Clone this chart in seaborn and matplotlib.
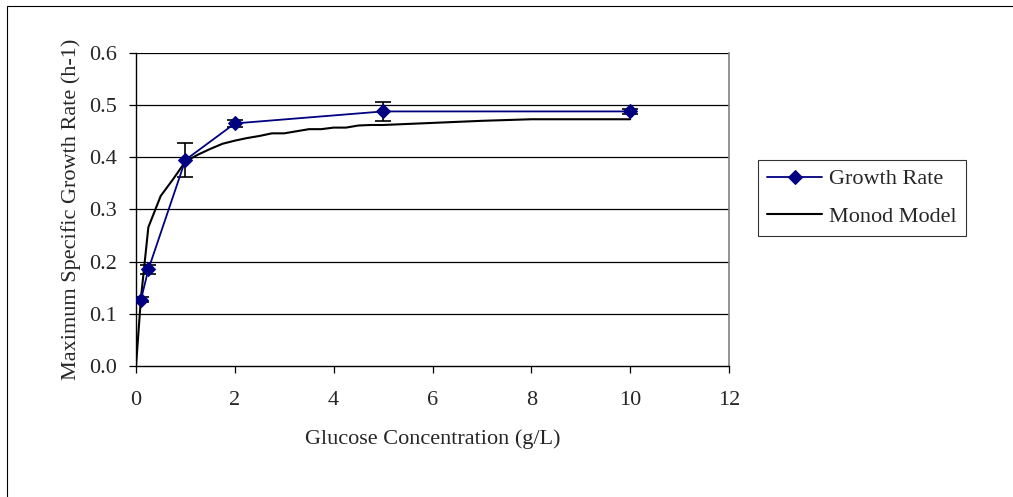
import matplotlib
matplotlib.use("Agg")
import matplotlib.pyplot as plt
from matplotlib.patches import Rectangle
import numpy as np
import pandas as pd
import seaborn as sns

# Measured maximum specific growth rates
glucose = [0.1, 0.25, 1.0, 2.0, 5.0, 10.0]
growth_rate = [0.127, 0.185, 0.395, 0.465, 0.488, 0.488]
growth_err = [0.005, 0.008, 0.032, 0.007, 0.018, 0.005]

# Monod model curve
monod_s = [0, 0.1, 0.25, 0.5, 0.75, 1.0, 1.25, 1.5, 1.75, 2.0, 2.25, 2.5, 2.75,
           3.0, 3.25, 3.5, 3.75, 4.0, 4.25, 4.5, 4.75, 5.0, 6.0, 7.0, 8.0, 9.0, 10.0]
monod_mu = [0.0, 0.13, 0.266, 0.326, 0.358, 0.392, 0.405, 0.416, 0.426, 0.432, 0.437,
            0.441, 0.446, 0.446, 0.450, 0.454, 0.454, 0.457, 0.457, 0.461, 0.462,
            0.462, 0.466, 0.470, 0.473, 0.473, 0.473]

x_ticks = [0, 2, 4, 6, 8, 10, 12]
y_ticks = [0.0, 0.1, 0.2, 0.3, 0.4, 0.5, 0.6]

sns.set_style("white")
plt.rcParams["font.family"] = ["Liberation Serif", "DejaVu Serif"]
FS = 16

W, H = 1013, 497
fig = plt.figure(figsize=(W / 100, H / 100), dpi=100)
fig.patch.set_facecolor("white")

# Chart-area frame
fig.patches.append(Rectangle((7 / W, -0.2), 1.2, 1.2 - 6 / H, transform=fig.transFigure,
                             fill=False, edgecolor="black", linewidth=0.8))

left, right, top, bottom = 136, 729, 53, 366
ax = fig.add_axes([left / W, 1 - bottom / H, (right - left) / W, (bottom - top) / H])

data = pd.DataFrame({"s": glucose, "mu": growth_rate})
model = pd.DataFrame({"s": monod_s, "mu": monod_mu})

for y in y_ticks[1:]:
    ax.axhline(y, color="#000000", linewidth=0.9, zorder=0)

sns.lineplot(data=model, x="s", y="mu", ax=ax, color="black", linewidth=1.5,
             label="Monod Model", zorder=3, sort=False)
ax.errorbar(glucose, growth_rate, yerr=growth_err, fmt="none", ecolor="black",
            elinewidth=1.2, capsize=5.5, capthick=1.2, zorder=4)
sns.lineplot(data=data, x="s", y="mu", ax=ax, color="#000080", linewidth=1.3,
             marker="D", markersize=7, markeredgecolor="#000080",
             label="Growth Rate", zorder=5, sort=False)

ax.set_xlim(0, 12)
ax.set_ylim(0, 0.6)
ax.set_xticks(x_ticks)
ax.set_yticks(y_ticks)
ax.set_xticklabels([str(v) for v in x_ticks])
ax.set_yticklabels([f"{v:.1f}" for v in y_ticks])
ax.tick_params(axis="both", which="both", direction="out", length=5, width=0.9,
               color="black", labelsize=FS, left=True, bottom=True)
ax.tick_params(axis="x", pad=13)
ax.tick_params(axis="y", pad=9)

for side in ["left", "bottom"]:
    ax.spines[side].set_color("black")
    ax.spines[side].set_linewidth(1.0)
ax.spines["right"].set_color("#808080")
ax.spines["right"].set_linewidth(1.2)
ax.spines["top"].set_visible(False)

ax.set_xlabel("Glucose Concentration (g/L)", fontsize=FS)
ax.xaxis.set_label_coords(0.5, (366 - 429) / 313)
ax.set_ylabel("Maximum Specific Growth Rate (h-1)", fontsize=FS)
ax.yaxis.set_label_coords((81 - 136) / 593, 0.5)

handles, labels = ax.get_legend_handles_labels()
order = [labels.index("Growth Rate"), labels.index("Monod Model")]
leg = ax.legend([handles[i] for i in order], [labels[i] for i in order],
                loc="upper left", bbox_to_anchor=(758 / W, 1 - 160 / H),
                bbox_transform=fig.transFigure, frameon=True, fancybox=False,
                edgecolor="black", fontsize=FS, handlelength=2.5,
                borderpad=0.4, labelspacing=0.77, handletextpad=0.3,
                borderaxespad=0)
leg.get_frame().set_linewidth(0.8)

fig.savefig("out.png", dpi=100, facecolor="white")
